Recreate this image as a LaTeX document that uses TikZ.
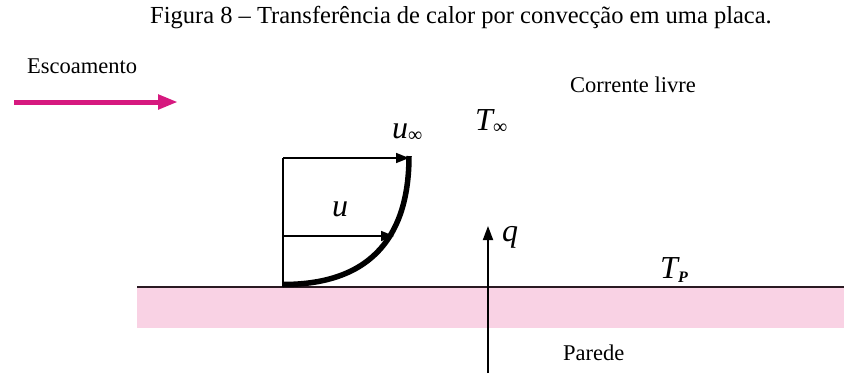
\documentclass[tikz,border=0pt]{standalone}
\usepackage{fontspec}
\setmainfont{Liberation Serif}
\usetikzlibrary{arrows.meta}
\definecolor{flowpink}{HTML}{D6197F}
\definecolor{wallpink}{HTML}{F9D2E4}
\definecolor{wallline}{HTML}{2A1A22}
\tikzset{
  lbl/.style={inner sep=0pt, font=\fontsize{22.5}{24}\selectfont},
  mlbl/.style={inner sep=0pt, font=\fontsize{32}{34}\selectfont\itshape},
  vec/.style={line width=1.7pt, -{Triangle[length=13pt,width=10pt]}},
}
\begin{document}
\begin{tikzpicture}[x=1pt,y=-1pt]
\useasboundingbox (0,0) rectangle (844,373);
% title
\node[inner sep=0pt, font=\fontsize{24.5}{26}\selectfont] (title) at (461,18) {Figura 8 – Transferência de calor por convecção em uma placa.};
% wall
\fill[wallpink] (137,288) rectangle (844,328);
\coordinate (wl) at (137,287);
\coordinate (wr) at (844,287);
\draw[wallline, line width=2pt] (wl) -- (wr);
% flow arrow
\node[lbl, anchor=west] (esc) at (27,66) {Escoamento};
\coordinate (fa) at (14,102);
\coordinate (fb) at (178,102);
\draw[flowpink, line width=5pt, -{Triangle[length=20pt,width=14pt]}] (fa) -- (fb);
% velocity profile
\coordinate (p0) at (283,287);
\coordinate (ptop) at (283,158);
\coordinate (pm) at (283,236);
\coordinate (ctop) at (409,158);
\coordinate (cm) at (394,236);
\draw[line width=2pt] (p0) -- (ptop);
\draw[vec] (ptop) -- (ctop);
\draw[vec] (pm) -- (cm);
\draw[line width=5.5pt] (283,284.5) .. controls (375,284.5) and (409,232) .. (409,156);
\node[mlbl] (u) at (340,209) {u};
\node[mlbl, anchor=base west] (uinf) at (392,138) {u\raisebox{-3pt}{\fontsize{20}{21}\selectfont\upshape ∞}};
\node[mlbl, anchor=base west] (tinf) at (475,130) {T\raisebox{-3pt}{\fontsize{20}{21}\selectfont\upshape ∞}};
% heat flux
\coordinate (qb) at (488,373);
\coordinate (qt) at (488,226);
\draw[line width=1.8pt, -{Triangle[length=14pt,width=10pt]}] (qb) -- (qt);
\node[mlbl, anchor=base west] (q) at (502,241) {q};
\node[mlbl, anchor=base west] (tp) at (660,278) {T\raisebox{-4pt}{\fontsize{16}{17}\selectfont\bfseries P}};
% labels
\node[lbl, anchor=west] (cl) at (570,85) {Corrente livre};
\node[lbl, anchor=west] (par) at (563,353) {Parede};
\end{tikzpicture}
\end{document}
